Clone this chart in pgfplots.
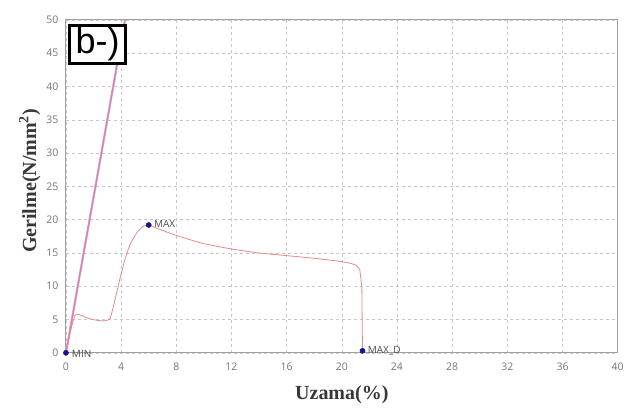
\documentclass[border=0pt]{standalone}
\usepackage{fontspec}
\setmainfont{Liberation Serif}
\newfontfamily\tickfont{Open Sans}
\newfontfamily\boxfont{Liberation Sans}
\usepackage{pgfplots}
\pgfplotsset{compat=1.18}
\definecolor{gridc}{RGB}{200,200,200}
\definecolor{axc}{RGB}{160,160,160}
\definecolor{tickc}{RGB}{115,115,115}
\definecolor{curvec}{RGB}{232,135,140}
\definecolor{lav}{RGB}{195,165,232}
\definecolor{mk}{RGB}{20,20,140}
\begin{document}
\begin{tikzpicture}
\begin{axis}[
  scale only axis, width=552pt, height=333pt,
  xmin=0, xmax=40, ymin=0, ymax=50,
  xtick={0,4,...,40}, ytick={0,5,...,50},
  grid=major,
  major grid style={gridc, dashed, line width=0.6pt},
  axis line style={axc, line width=1pt},
  tick style={draw=none},
  tick label style={font=\tickfont\fontsize{10.5}{12}\selectfont, text=tickc},
  xticklabel style={yshift=-7pt},
  yticklabel style={xshift=-4pt},
  /pgf/number format/assume math mode=true,
  xlabel={Uzama(\%)},
  ylabel={Gerilme(N/mm\textsuperscript{2})},
  label style={font=\fontsize{20}{22}\selectfont\bfseries, text=black!78},
  xlabel style={at={(axis description cs:0.5,-0.1411)}, anchor=base},
  ylabel style={at={(axis description cs:-0.0543,0.5165)}, anchor=base},
  clip=false,
]
\addplot[lav, line width=2.2pt] coordinates {(0,0) (4.28,50)};
\addplot[curvec!90!red, line width=0.8pt] coordinates {(0,0) (4.28,50)};
\addplot[curvec, line width=0.8pt, smooth, tension=0.4] coordinates {
(0,0) (0.3,3.0) (0.65,5.6) (1.0,5.7) (1.6,5.2) (2.2,4.9) (2.8,4.8) (3.2,5.2)
(3.5,7.5) (3.9,11) (4.3,14.2) (4.7,16.5) (5.2,18.2) (5.6,19.0) (6.0,19.2)
(6.6,18.7) (7.5,18.0) (8.5,17.3) (10,16.4) (12,15.6) (14,15.0) (16,14.6)
(18,14.2) (20,13.7) (21.0,13.2) (21.3,12.5)};
\addplot[curvec, line width=0.8pt] coordinates {(21.3,12.5) (21.45,10) (21.5,0.3)};
\addplot[only marks, mark=*, mark size=2.6pt, mk] coordinates {(0,0) (6.0,19.2) (21.5,0.3)};
\node[anchor=west, font=\tickfont\fontsize{10}{11}\selectfont, text=black!70, inner sep=1pt] at (axis cs:0.35,-0.1) {MIN};
\node[anchor=west, font=\tickfont\fontsize{10}{11}\selectfont, text=black!70, inner sep=1pt] at (axis cs:6.3,19.3) {MAX};
\node[anchor=west, font=\tickfont\fontsize{10}{11}\selectfont, text=black!70, inner sep=1pt] at (axis cs:21.8,0.35) {MAX\_D};
\node[draw=black, line width=3.5pt, fill=white, anchor=north west, inner xsep=6pt, inner ysep=2pt, font=\boxfont\fontsize{36}{38}\selectfont] at ([xshift=2pt,yshift=-4pt]rel axis cs:0,1) {b-)};
\end{axis}
\path ([xshift=-66pt,yshift=-52pt]current axis.south west) rectangle ([xshift=9pt,yshift=20pt]current axis.north east);
\end{tikzpicture}
\end{document}
